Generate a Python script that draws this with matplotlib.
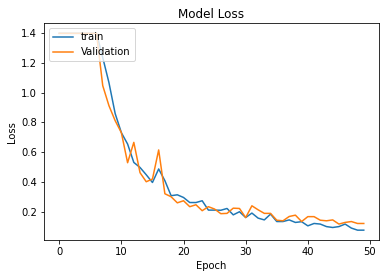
import matplotlib
matplotlib.use("Agg")
import matplotlib.pyplot as plt

epochs = list(range(50))
train_loss = [1.40, 1.40, 1.40, 1.40, 1.40, 1.40, 1.40, 1.237, 1.068, 0.860,
              0.731, 0.655, 0.531, 0.497, 0.448, 0.396, 0.487, 0.408, 0.307, 0.313,
              0.295, 0.261, 0.261, 0.273, 0.210, 0.210, 0.209, 0.221, 0.178, 0.199,
              0.160, 0.190, 0.156, 0.144, 0.183, 0.133, 0.133, 0.144, 0.127, 0.132,
              0.104, 0.120, 0.116, 0.099, 0.093, 0.099, 0.116, 0.089, 0.075, 0.075]
val_loss = [1.40, 1.40, 1.40, 1.40, 1.40, 1.40, 1.40, 1.048, 0.913, 0.812,
            0.731, 0.529, 0.666, 0.462, 0.401, 0.419, 0.615, 0.320, 0.300, 0.259,
            0.273, 0.233, 0.246, 0.206, 0.233, 0.217, 0.186, 0.188, 0.223, 0.221,
            0.160, 0.239, 0.212, 0.188, 0.188, 0.142, 0.138, 0.167, 0.176, 0.133,
            0.166, 0.166, 0.142, 0.138, 0.144, 0.116, 0.127, 0.133, 0.120, 0.120]
series_labels = ["train", "Validation"]

fig = plt.figure(figsize=(386 / 72, 278 / 72), dpi=72)
ax = fig.add_axes([44 / 386, 38 / 278, 335 / 386, 216.5 / 278])
ax.plot(epochs, train_loss, label=series_labels[0])
ax.plot(epochs, val_loss, label=series_labels[1])
ax.set_title("Model Loss")
ax.set_ylabel("Loss")
ax.set_xlabel("Epoch")
ax.legend(loc="upper left")
fig.savefig("out.png", dpi=72)
